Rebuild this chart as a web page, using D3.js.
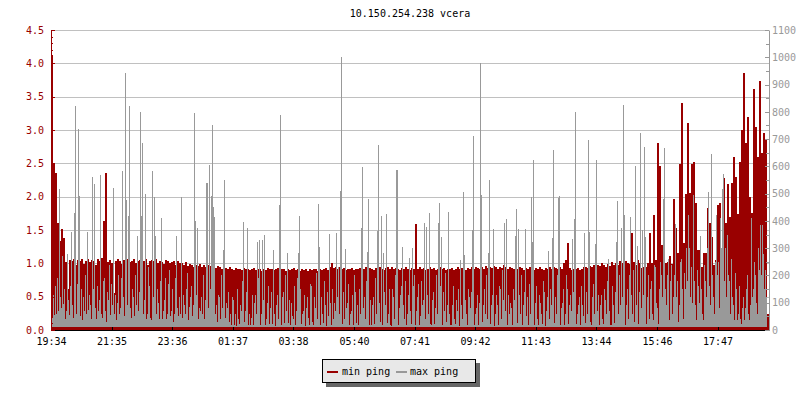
<!DOCTYPE html>
<html><head><meta charset="utf-8">
<script src="https://cdn.jsdelivr.net/npm/d3@7"></script>
<style>
body{margin:0;background:#fff}
svg{display:block}
text{font-family:"DejaVu Sans Mono",monospace;font-size:10px}
</style>
</head><body>
<svg id="c" width="800" height="400"></svg>
<script>
const chartTitle = "10.150.254.238 vcera";
const startLabel = "19:34";
const minPingStepMinutes = 4;
const maxPingStepMinutes = 2;
const spanMinutes = 1436;
const tickLabels = ["19:34","21:35","23:36","01:37","03:38","05:40","07:41","09:42","11:43","13:44","15:46","17:47"];
const leftTicks = [0,0.5,1,1.5,2,2.5,3,3.5,4,4.5];
const rightTicks = [0,100,200,300,400,500,600,700,800,900,1000,1100];
const seriesNames = ["min ping","max ping"];
const seriesColors = ["#990000","#999999"];
const maxPingFloor = 10;

const minPing = [
4.12,2.5,2.35,1.6,1.33,1.51,1.38,1.02,0.62,1.05,
1.04,1.06,0.98,1.05,1.03,1.07,0.99,1.04,1.06,1.02,
1.05,1.03,0.97,1.06,1.04,1.08,1.64,2.36,1.02,1.05,
1.01,0.55,1.04,1.06,1.03,0.99,1.05,1.04,1.07,1.02,
1.04,1.06,1.0,1.03,1.05,1.02,1.04,1.07,0.98,1.03,
1.05,1.03,1.06,1.01,1.04,1.02,0.99,1.05,1.03,1.0,
1.02,1.04,0.98,1.03,1.01,1.0,0.97,1.02,0.96,0.99,
0.97,0.95,0.98,0.96,0.99,0.95,0.97,0.94,0.98,0.96,
0.95,0.97,0.93,0.96,0.94,0.92,0.95,0.93,0.91,0.94,
0.92,0.90,0.93,0.91,0.92,0.90,0.93,0.91,0.92,0.90,
0.91,0.93,0.90,0.92,0.91,0.89,0.92,0.90,0.93,0.91,
0.92,0.90,0.91,0.93,0.90,0.92,0.91,0.89,0.92,0.90,
0.91,0.93,0.90,0.92,0.88,0.91,0.90,0.92,0.89,0.91,
0.90,0.92,0.91,0.89,0.92,0.90,0.91,0.93,0.90,0.94,
1.0,0.93,0.95,0.92,0.94,0.91,0.93,0.90,0.92,0.91,
0.93,0.90,0.92,0.91,0.93,0.90,0.92,0.94,0.91,0.93,
0.92,0.90,0.93,0.91,0.94,0.92,0.90,0.93,0.95,0.92,
0.94,0.91,0.93,0.92,0.90,0.93,0.91,0.94,0.92,0.90,
0.93,0.91,1.59,0.92,0.94,0.91,0.93,0.90,0.92,0.94,
0.91,0.93,0.90,0.92,0.94,0.91,0.93,0.90,0.92,0.91,
0.93,0.90,0.92,0.94,0.91,0.93,0.92,0.90,0.93,0.91,
0.94,0.92,0.95,0.93,0.91,0.94,0.92,0.96,0.93,0.95,
0.93,0.96,0.94,0.92,0.95,0.93,0.97,0.94,0.92,0.95,
0.93,0.91,0.94,0.92,0.95,0.93,0.90,0.93,0.91,0.94,
0.92,0.90,0.93,0.91,0.94,0.92,0.90,0.93,0.91,0.94,
0.92,0.95,0.93,0.91,0.94,0.92,1.0,1.05,1.3,0.93,
0.90,0.92,0.91,0.93,0.90,0.92,0.94,0.95,0.93,0.96,
0.94,0.97,0.95,0.98,0.96,1.0,0.97,0.95,0.99,0.96,
1.02,0.98,1.0,0.97,1.03,1.0,0.98,1.04,1.01,0.99,
1.45,1.02,0.98,1.05,1.0,0.93,0.95,0.95,1.0,1.46,
1.0,1.73,1.05,2.81,2.46,1.28,1.18,1.0,1.02,1.11,
0.99,1.97,1.53,1.15,2.49,3.41,1.3,2.04,3.1,2.05,
2.49,2.52,1.91,1.2,1.2,0.95,1.15,1.15,1.83,1.61,
1.4,0.98,1.05,1.87,1.91,1.1,2.28,1.6,2.19,1.7,
2.21,2.59,2.3,1.74,2.52,3.0,3.86,2.8,3.2,2.0,
1.75,3.62,3.05,2.6,3.73,2.66,2.95,2.87,0.24
];

const maxPing = [
60,45,130,55,160,60,190,70,517,120,80,270,95,150,40,70,280,110,55,160,
359,90,45,430,821,60,170,737,491,50,150,35,120,70,200,60,359,75,130,90,
40,562,150,535,80,40,160,70,110,568,60,45,180,190,70,30,140,110,240,55,
170,90,520,60,130,35,100,200,60,80,190,583,120,50,943,477,90,419,821,80,
45,150,120,50,200,90,345,70,140,800,418,687,60,110,499,40,60,230,160,45,
35,583,120,488,345,60,150,100,40,180,411,40,70,110,190,40,60,170,220,50,
70,150,30,60,190,345,80,50,120,60,489,45,130,90,60,150,210,35,85,120,
160,50,90,796,401,130,374,40,80,70,120,60,200,40,110,540,540,80,605,150,
490,753,452,415,60,90,30,130,120,40,200,80,293,550,45,100,80,140,30,60,
18,120,110,20,60,16,150,40,22,90,70,180,397,30,70,140,374,18,60,20,
45,130,18,100,130,60,324,190,330,20,60,330,110,348,17,40,100,160,22,80,
140,22,293,60,16,90,130,40,458,788,19,120,140,25,200,70,282,24,110,18,
100,50,40,160,17,70,190,282,418,150,21,60,70,130,16,80,120,45,19,170,
160,30,17,120,80,210,40,463,304,20,120,60,25,180,90,16,140,50,352,100,
18,150,40,100,70,357,120,230,60,510,1001,22,140,40,297,80,100,170,18,60,
70,130,19,200,140,24,90,17,150,60,374,599,80,120,40,180,287,480,20,110,
18,90,120,22,190,60,364,678,100,30,418,17,282,140,90,425,26,60,150,20,
16,150,120,40,200,587,587,19,80,130,160,304,90,40,180,18,60,130,264,70,
22,301,160,200,17,70,120,170,20,50,180,90,110,393,40,379,130,60,430,22,
17,110,140,21,80,200,60,393,466,160,342,18,140,70,210,30,90,434,60,20,
18,90,160,40,22,110,70,150,16,257,90,40,506,275,110,60,20,150,120,80,
140,367,712,19,60,80,130,17,100,978,495,28,90,150,60,200,40,282,550,21,
90,130,370,16,60,130,90,20,160,150,40,220,110,392,70,407,18,130,60,100,
80,19,150,110,345,444,24,370,130,60,200,17,90,140,370,50,120,20,170,60,
488,323,623,20,100,160,40,18,130,100,60,22,180,140,16,70,120,290,40,150,
90,337,660,26,120,60,200,484,491,19,80,100,150,17,60,200,150,21,90,130,
70,334,140,407,799,22,60,90,120,17,160,90,50,355,24,140,60,697,361,30,
19,120,170,60,315,623,70,130,18,90,130,40,21,150,110,60,180,260,70,20,
20,160,90,26,140,324,473,60,200,90,374,120,825,421,18,90,150,40,200,415,
130,60,220,30,601,90,308,22,140,722,80,367,130,672,342,21,120,200,40,150,
180,60,35,240,230,100,80,22,150,250,200,120,480,669,150,90,200,260,35,180,
240,60,120,200,389,120,180,30,90,250,260,150,40,210,150,300,180,421,300,120,
230,100,495,180,90,35,220,160,100,345,150,60,35,240,180,120,300,507,160,90,
645,200,120,60,250,421,200,250,80,409,300,517,572,180,300,120,350,200,180,60,
260,120,90,35,210,150,35,60,160,40,22,80,120,35,80,150,200,60,35,90,
409,120,150,250,200,100,60,300,220,385,200,385,280,150,220,120
];

const plot = {left: 51, right: 769, top: 30, bottom: 330};
const svg = d3.select("#c");

const [sh, sm] = startLabel.split(":").map(Number);
const t0 = new Date(2000, 0, 1, sh, sm);
const MIN = 60000;
const timeAt = (i, step) => new Date(t0.getTime() + i * step * MIN);

const x = d3.scaleTime().domain([t0, new Date(t0.getTime() + spanMinutes * MIN)]).range([plot.left, plot.right]);
const yL = d3.scaleLinear().domain([0, 4.5]).range([plot.bottom, plot.top]);
const yR = d3.scaleLinear().domain([0, 1100]).range([plot.bottom, plot.top]);
const px = t => Math.round(x(t));

// title
svg.append("text").attr("x", (plot.left + plot.right) / 2).attr("y", 17)
  .attr("text-anchor", "middle").attr("fill", "#000").text(chartTitle);

// grid lines
svg.append("g").selectAll("line").data(leftTicks.filter(d => d > 0)).join("line")
  .attr("x1", plot.left).attr("x2", plot.right)
  .attr("y1", d => Math.round(yL(d)) + 0.5).attr("y2", d => Math.round(yL(d)) + 0.5)
  .attr("stroke", "#c0c0c0");

// min ping (red) bars
svg.append("g").attr("shape-rendering", "crispEdges").selectAll("rect").data(minPing).join("rect")
  .attr("x", (d, i) => px(timeAt(i, minPingStepMinutes)))
  .attr("width", (d, i) => px(timeAt(i + 1, minPingStepMinutes)) - px(timeAt(i, minPingStepMinutes)))
  .attr("y", d => Math.round(yL(d)))
  .attr("height", d => Math.round(yL(0)) - Math.round(yL(d)))
  .attr("fill", seriesColors[0]);

// max ping (gray) bars
svg.append("g").attr("shape-rendering", "crispEdges").selectAll("rect").data(maxPing).join("rect")
  .attr("x", (d, i) => px(timeAt(i, maxPingStepMinutes)))
  .attr("width", (d, i) => Math.max(1, px(timeAt(i + 1, maxPingStepMinutes)) - px(timeAt(i, maxPingStepMinutes))))
  .attr("y", d => Math.round(yR(d)))
  .attr("height", d => Math.max(0, Math.round(yR(maxPingFloor)) - Math.round(yR(d))))
  .attr("fill", seriesColors[1]);

// x axis
const tickDates = tickLabels.map(s => {
  const [h, m] = s.split(":").map(Number);
  const off = ((h * 60 + m) - (sh * 60 + sm) + 1440) % 1440;
  return new Date(t0.getTime() + off * MIN);
});
const xAxis = svg.append("g").attr("transform", `translate(0,${plot.bottom})`)
  .call(d3.axisBottom(x).tickValues(tickDates).tickSize(-3).tickSizeOuter(0).tickPadding(8)
    .tickFormat((d, i) => tickLabels[i]));
xAxis.select(".domain").remove();
xAxis.selectAll("line").attr("stroke", "#000").attr("shape-rendering", "crispEdges");
xAxis.selectAll("text").attr("fill", "#000").style("font-family", "DejaVu Sans Mono, monospace").style("font-size", "10px");
svg.append("line").attr("x1", plot.left).attr("x2", plot.right).attr("y1", plot.bottom + 0.5).attr("y2", plot.bottom + 0.5)
  .attr("stroke", "#000");

// left axis (min ping)
const lMinor = svg.append("g").attr("transform", `translate(${plot.left},0)`).attr("color", seriesColors[0])
  .call(d3.axisLeft(yL).tickValues(d3.range(0, 46).map(k => k / 10)).tickSize(-2).tickSizeOuter(0).tickFormat(""));
lMinor.selectAll("line").attr("shape-rendering", "crispEdges");
const lAxis = svg.append("g").attr("transform", `translate(${plot.left},0)`).attr("color", seriesColors[0])
  .call(d3.axisLeft(yL).tickValues(leftTicks).tickSize(-4).tickSizeOuter(0).tickPadding(7).tickFormat(d3.format(".1f")));
lAxis.selectAll("line,path").attr("shape-rendering", "crispEdges");
lAxis.selectAll("text").style("font-family", "DejaVu Sans Mono, monospace").style("font-size", "10px");

// right axis (max ping)
const rMinor = svg.append("g").attr("transform", `translate(${plot.right},0)`).attr("color", seriesColors[1])
  .call(d3.axisRight(yR).tickValues(d3.range(0, 23).map(k => k * 50)).tickSize(-3).tickSizeOuter(0).tickFormat(""));
rMinor.selectAll("line").attr("shape-rendering", "crispEdges");
const rAxis = svg.append("g").attr("transform", `translate(${plot.right},0)`).attr("color", seriesColors[1])
  .call(d3.axisRight(yR).tickValues(rightTicks).tickSize(-4).tickSizeOuter(0).tickPadding(3).tickFormat(d3.format("d")));
rAxis.selectAll("line,path").attr("shape-rendering", "crispEdges");
rAxis.selectAll("text").style("font-family", "DejaVu Sans Mono, monospace").style("font-size", "10px");

// legend
const lg = svg.append("g").attr("shape-rendering", "crispEdges");
lg.append("rect").attr("x", 326).attr("y", 363).attr("width", 154).attr("height", 24).attr("fill", "#666");
lg.append("rect").attr("x", 322.5).attr("y", 359.5).attr("width", 153).attr("height", 23)
  .attr("fill", "#e8e8e8").attr("stroke", "#000");
const items = [{sx: 327, tx: 342}, {sx: 396, tx: 410}];
seriesNames.forEach((name, k) => {
  lg.append("rect").attr("x", items[k].sx).attr("y", 371).attr("width", 11).attr("height", 2).attr("fill", seriesColors[k]);
  lg.append("text").attr("x", items[k].tx).attr("y", 375).attr("fill", "#000").text(name);
});
</script>
</body></html>
